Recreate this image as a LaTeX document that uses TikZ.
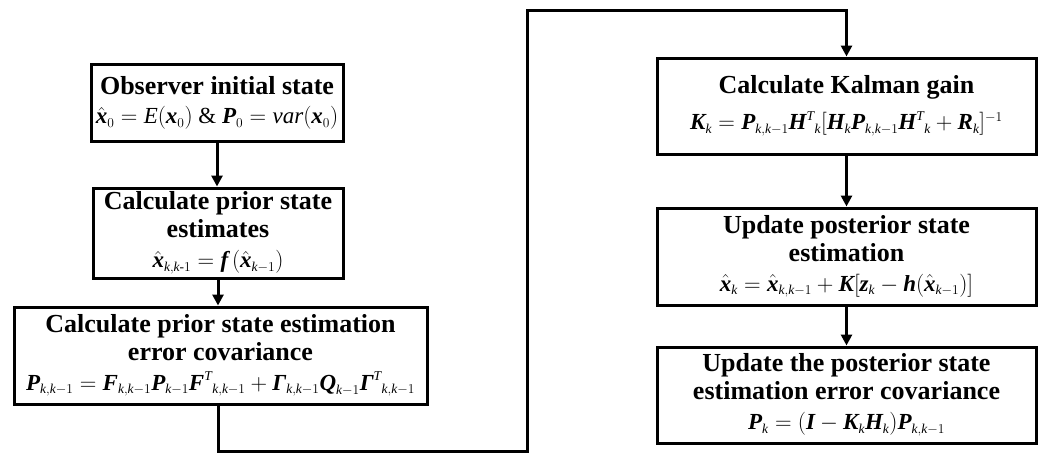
\documentclass[tikz,border=0pt]{standalone}
\usepackage{fix-cm}
\usepackage{amsmath}
\usepackage{fontspec}
\setmainfont{Liberation Serif}
\usetikzlibrary{arrows.meta}
\DeclareMathSizes{23}{23}{13.5}{10}
\newcommand\bv[1]{\text{\normalfont\bfseries\itshape #1}}
\newcommand\iv[1]{\text{\normalfont\itshape #1}}
\newcommand\kk{\iv{k},\iv{k}-1}
\newcommand\km{\iv{k}-1}
\newcommand\ik{\iv{k}}
\newcommand\fm{\mdseries\fontsize{23}{25}\selectfont}
\tikzset{
  box/.style={draw, line width=3pt, align=center, inner sep=0pt,
    font=\fontsize{26}{28}\selectfont\bfseries},
  conn/.style={line width=3pt},
  arr/.style={conn, -{Triangle[length=11pt,width=11pt]}},
}
\begin{document}
\begin{tikzpicture}[x=1pt,y=-1pt]
\useasboundingbox (0,0) rectangle (1040,453);
\node[box, minimum width=252pt, minimum height=77pt] (b1) at (217,103)
  {Observer initial state\\[1pt]
   {\fm $\hat{\bv{x}}_0 = \iv{E}(\bv{x}_0)\ \text{\normalfont\&}\ \bv{P}_0 = \iv{var}(\bv{x}_0)$}};
\node[box, minimum width=250pt, minimum height=90pt] (b2) at (218,233)
  {Calculate prior state\\ estimates\\[2pt]
   {\fm $\hat{\bv{x}}_{\ik,\ik\text{-}1} = \bv{f}\,(\hat{\bv{x}}_{\km})$}};
\node[box, minimum width=413pt, minimum height=97pt] (b3) at (220.5,355.5)
  {Calculate prior state estimation\\ error covariance\\[2pt]
   {\fm $\bv{P}_{\kk} = \bv{F}_{\kk}\bv{P}_{\km}\bv{F}^{\iv{T}}{}_{\kk} + \bv{Γ}_{\kk}\bv{Q}_{\km}\bv{Γ}^{\iv{T}}{}_{\kk}$}};
\node[box, minimum width=379pt, minimum height=96pt] (k) at (846.5,106)
  {Calculate Kalman gain\\[8pt]
   {\fm $\bv{K}_{\ik} = \bv{P}_{\kk}\bv{H}^{\iv{T}}{}_{\ik}[\bv{H}_{\ik}\bv{P}_{\kk}\bv{H}^{\iv{T}}{}_{\ik} + \bv{R}_{\ik}]^{-1}$}};
\node[box, minimum width=379pt, minimum height=97pt] (u5) at (846.5,256.5)
  {Update posterior state\\ estimation\\[2pt]
   {\fm $\hat{\bv{x}}_{\ik} = \hat{\bv{x}}_{\kk} + \bv{K}[\bv{z}_{\ik} - \bv{h}(\hat{\bv{x}}_{\km})]$}};
\node[box, minimum width=379pt, minimum height=96pt] (u6) at (846.5,395)
  {Update the posterior state\\ estimation error covariance\\[2pt]
   {\fm $\bv{P}_{\ik} = (\bv{I} - \bv{K}_{\ik}\bv{H}_{\ik})\bv{P}_{\kk}$}};
\coordinate (bl) at (527,451);
\coordinate (tl) at (527,10);
\draw[arr] (b1.south) -- (b1.south |- b2.north);
\draw[arr] (b2.south) -- (b2.south |- b3.north);
\draw[arr] (b2.south |- b3.south) |- (bl) -- (tl) -| (k.north);
\draw[arr] (k.south) -- (u5.north);
\draw[arr] (u5.south) -- (u6.north);
\end{tikzpicture}
\end{document}
